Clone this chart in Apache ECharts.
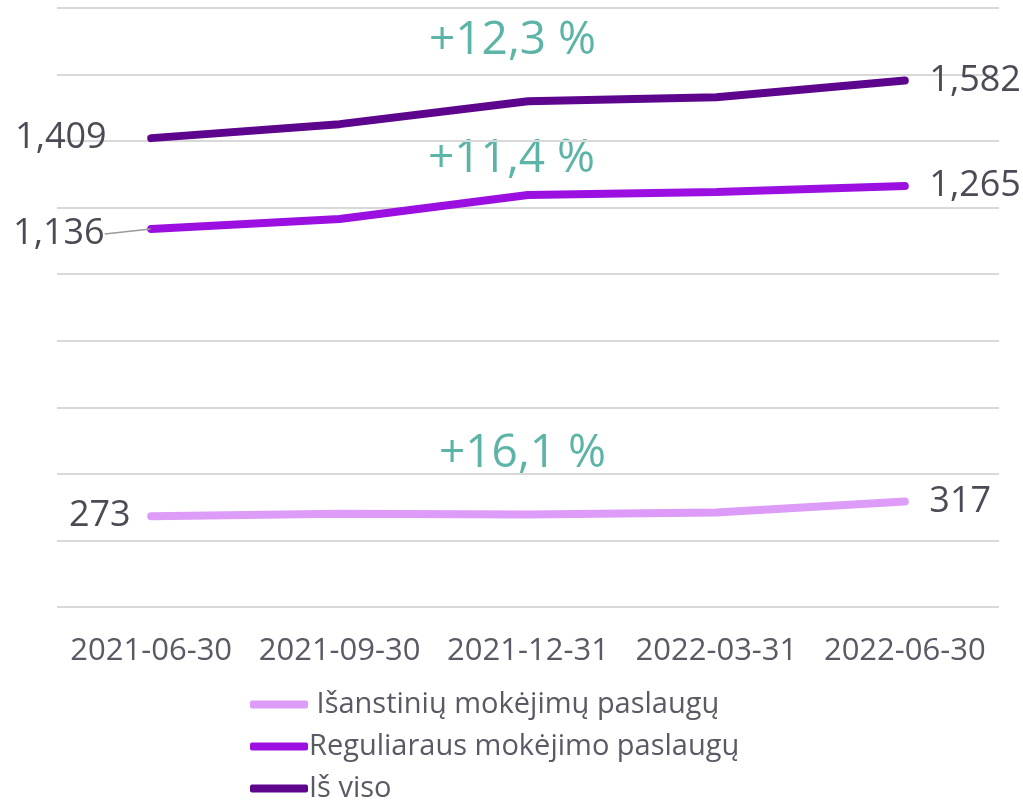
<!DOCTYPE html>
<html>
<head>
<meta charset="utf-8">
<script src="https://cdn.jsdelivr.net/npm/echarts@6/dist/echarts.min.js"></script>
<style>
  html, body { margin: 0; padding: 0; background: #fff; }
  #chart { width: 1023px; height: 800px; }
</style>
</head>
<body>
<div id="chart"></div>
<script>
// chart data
const dates = ['2021-06-30', '2021-09-30', '2021-12-31', '2022-03-31', '2022-06-30'];
const seriesNames = [' Išanstinių mokėjimų paslaugų', 'Reguliaraus mokėjimo paslaugų', 'Iš viso'];
const advancePayments = [273, 280, 278, 284, 317];
const regularPayments = [1136, 1166, 1238, 1247, 1265];
const totalPayments = [1409, 1451, 1520, 1532, 1582];
const growthLabels = ['+12,3 %', '+11,4 %', '+16,1 %'];

const textColor = '#4b4a55';
const fontFamily = '"Open Sans", Lato, sans-serif';

// only first and last points get a label; firstLabel lets one label be nudged
function edgeLabels(values, firstLabel) {
  return values.map((v, i) => {
    if (i === 0) {
      return Object.assign({ value: v, label: { show: true, position: 'left', distance: 20 } }, firstLabel || {});
    }
    if (i === values.length - 1) {
      return { value: v, label: { show: true, position: 'right', distance: 24 } };
    }
    return v;
  });
}

function makeSeries(name, values, color, firstLabel) {
  return {
    name: name,
    type: 'line',
    data: edgeLabels(values, firstLabel),
    symbol: 'circle',
    symbolSize: 1,
    showSymbol: true,
    lineStyle: { color: color, width: 8, cap: 'round' },
    itemStyle: { color: color },
    label: {
      show: false,
      color: textColor,
      fontSize: 36,
      fontFamily: fontFamily,
      formatter: (p) => p.value.toLocaleString('en-US')
    },
    emphasis: { disabled: true }
  };
}

// one legend block per row so the column never wraps
function legendRow(name, top) {
  return {
    orient: 'vertical',
    left: 250,
    top: top,
    padding: 0,
    icon: 'roundRect',
    itemWidth: 58,
    itemHeight: 8,
    textStyle: { color: '#5a5a66', fontSize: 29, lineHeight: 26, fontFamily: fontFamily, padding: [0, 0, 0, -4] },
    data: [name]
  };
}

const chart = echarts.init(document.getElementById('chart'));

const option = {
  animation: false,
  grid: { left: 57, right: 24, top: 8, bottom: 193 },
  xAxis: {
    type: 'category',
    data: dates,
    axisLine: { show: false },
    axisTick: { show: false },
    axisLabel: { color: '#5a5a66', fontSize: 31, fontFamily: fontFamily, margin: 29, interval: 0 }
  },
  yAxis: {
    type: 'value',
    min: 0,
    max: 1800,
    interval: 200,
    axisLabel: { show: false },
    axisLine: { show: false },
    axisTick: { show: false },
    splitLine: { lineStyle: { color: '#d9d9d9', width: 2 } }
  },
  legend: [
    legendRow(seriesNames[0], 690),
    legendRow(seriesNames[1], 732),
    legendRow(seriesNames[2], 774)
  ],
  series: [
    makeSeries(seriesNames[0], advancePayments, '#dc9cf8'),
    Object.assign(makeSeries(seriesNames[1], regularPayments, '#9b10e0', {
      label: { show: true, position: 'left', distance: 46 },
      labelLine: { show: true, lineStyle: { color: '#9a9a9a', width: 1.5 } }
    }), {
      labelLayout: (params) => params.dataIndex === 0 ? { dy: 5 } : {}
    }),
    makeSeries(seriesNames[2], totalPayments, '#5d068d', {
      label: { show: true, position: 'left', distance: 44 }
    })
  ],
  graphic: [
    { type: 'text', left: 429, top: 18, style: { text: growthLabels[0], fill: '#5cb4a6', fontSize: 46, fontFamily: fontFamily } },
    { type: 'text', left: 428, top: 136, style: { text: growthLabels[1], fill: '#5cb4a6', fontSize: 46, fontFamily: fontFamily } },
    { type: 'text', left: 439, top: 431, style: { text: growthLabels[2], fill: '#5cb4a6', fontSize: 46, fontFamily: fontFamily } }
  ]
};

chart.setOption(option);
</script>
</body>
</html>
